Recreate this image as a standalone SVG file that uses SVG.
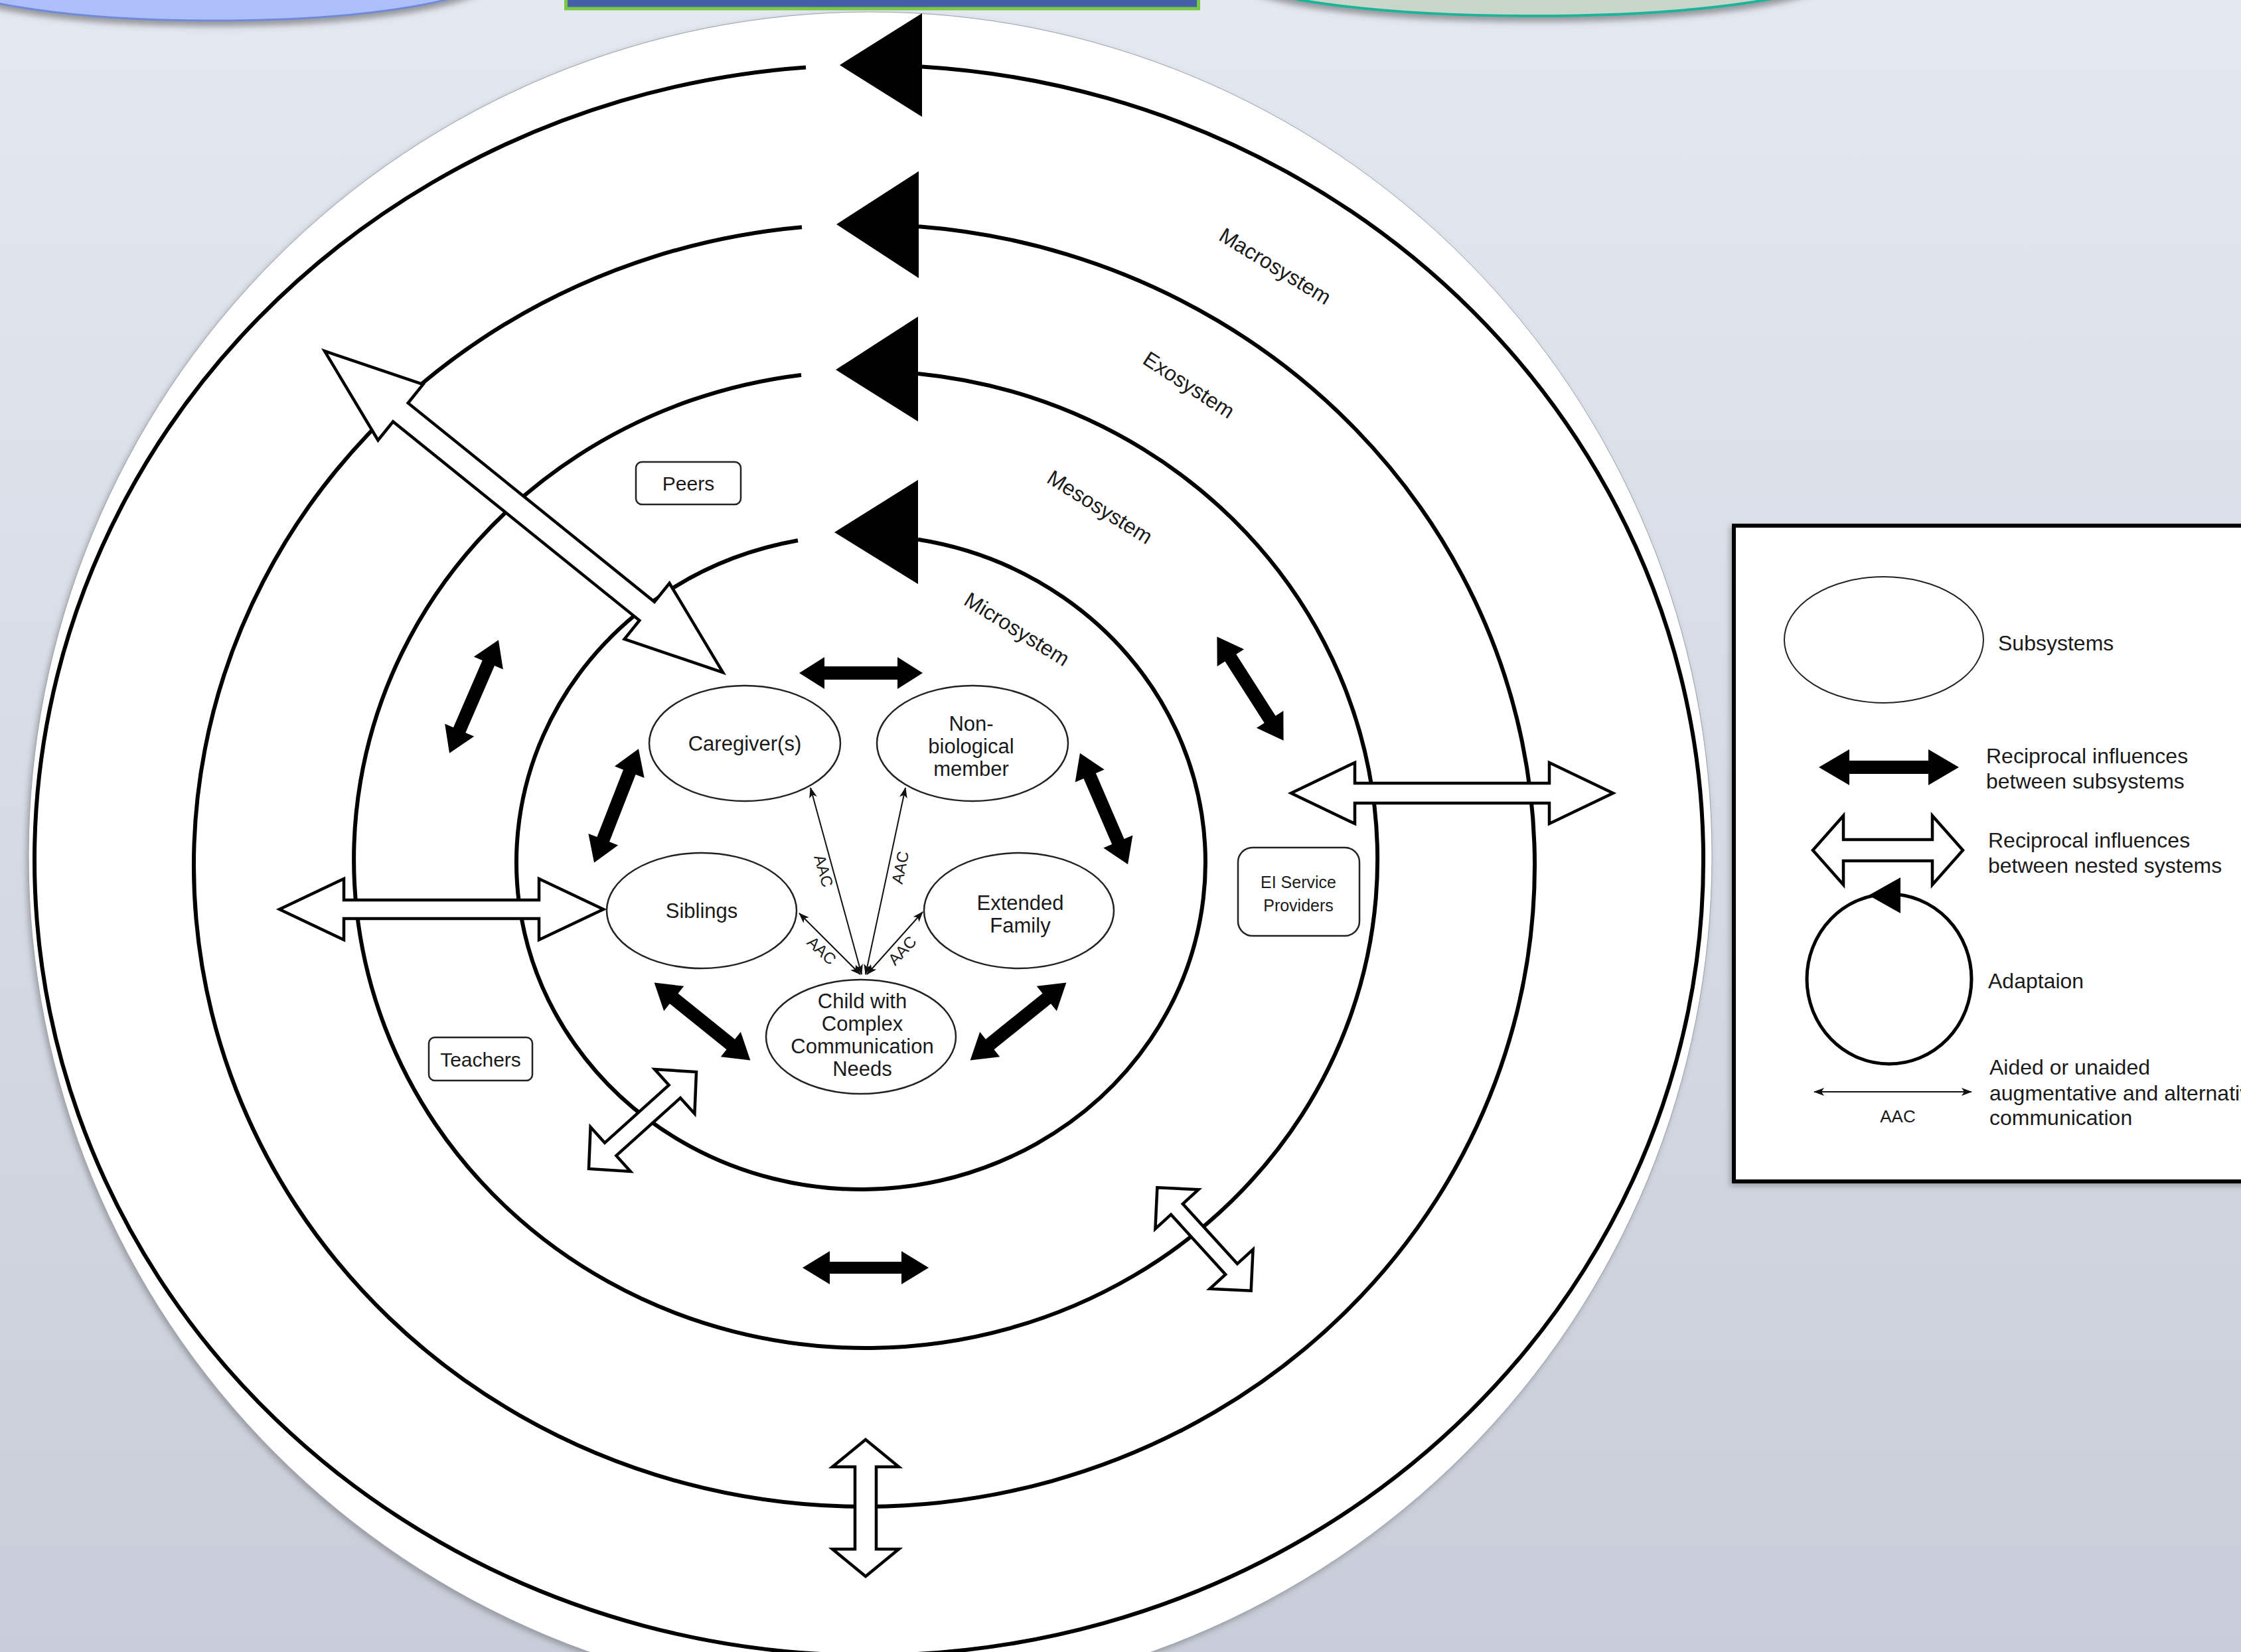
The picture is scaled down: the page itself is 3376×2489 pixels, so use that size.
<svg xmlns="http://www.w3.org/2000/svg" width="3376" height="2489" viewBox="0 0 3376 2489">
<defs>
<linearGradient id="bg" x1="0" y1="0" x2="0" y2="1">
<stop offset="0" stop-color="#e4e8f0"/>
<stop offset="1" stop-color="#c8cdd9"/>
</linearGradient>
<filter id="sh" x="-10%" y="-10%" width="120%" height="130%">
<feGaussianBlur in="SourceAlpha" stdDeviation="5"/>
<feOffset dx="0" dy="7" result="o"/>
<feFlood flood-color="#555" flood-opacity="0.55"/>
<feComposite in2="o" operator="in"/>
<feMerge><feMergeNode/><feMergeNode in="SourceGraphic"/></feMerge>
</filter>
<filter id="sh2" x="-5%" y="-5%" width="110%" height="110%">
<feGaussianBlur in="SourceAlpha" stdDeviation="4"/>
<feOffset dx="-3" dy="4" result="o"/>
<feFlood flood-color="#666" flood-opacity="0.5"/>
<feComposite in2="o" operator="in"/>
<feMerge><feMergeNode/><feMergeNode in="SourceGraphic"/></feMerge>
</filter>
<marker id="ah" viewBox="0 0 16 12" refX="15" refY="6" markerWidth="16" markerHeight="12" markerUnits="userSpaceOnUse" orient="auto-start-reverse">
<path d="M0,0 L16,6 L0,12 L4,6 z" fill="#111"/>
</marker>
<polygon id="blk" points="-93,0 -55,-24 -55,-10 55,-10 55,-24 93,0 55,24 55,10 -55,10 -55,24"/>
</defs>
<style>
.ring{fill:none;stroke:#000;stroke-width:6}
.node{fill:#fff;stroke:#222;stroke-width:2.5}
.box{fill:#fff;stroke:#222;stroke-width:2.5}
.t{font-family:"Liberation Sans",Arial,Helvetica,sans-serif;fill:#1a1a1a;text-anchor:middle}
.lt{font-family:"Liberation Sans",Arial,Helvetica,sans-serif;fill:#1a1a1a;font-size:32px}
.hol{fill:#fff;stroke:#000;stroke-width:4.5;stroke-linejoin:miter}
.sol{fill:#000}
.aac{stroke:#111;stroke-width:2;fill:none}
.adp{fill:#000}
</style>
<rect x="0" y="0" width="3376" height="2489" fill="url(#bg)"/>
<g id="top-shapes">
<ellipse cx="323" cy="-40" rx="420" ry="71" fill="#acbffa" stroke="#6f8ad6" stroke-width="3" filter="url(#sh)"/>
<ellipse cx="2309" cy="-40" rx="448" ry="64" fill="#c9d6ca" stroke="#1db39a" stroke-width="4" filter="url(#sh)"/>
<rect x="852.5" y="-20" width="953" height="33" fill="#425fa8" stroke="#7ac943" stroke-width="5"/>
</g>
<ellipse id="backdrop" cx="1311" cy="1290" rx="1268" ry="1272" fill="#fff" stroke="#9aa0ad" stroke-width="1" filter="url(#sh2)"/>
<g id="rings">
<path class="ring" d="M1389 100.4 A1257 1198 0 1 1 1214 101.4"/>
<path class="ring" d="M1384 341.2 A1010 966 0 1 1 1208 342.2"/>
<path class="ring" d="M1383 562.9 A771 736 0 1 1 1207 564.9"/>
<path class="ring" d="M1383 812.8 A519 493 0 1 1 1202 814.3"/>
<polygon class="adp" points="1265,98 1389,20 1389,176"/>
<polygon class="adp" points="1260,338 1384,258 1384,419"/>
<polygon class="adp" points="1259,557 1383,477 1383,635"/>
<polygon class="adp" points="1257,802 1383,723 1383,880"/>
</g>
<g id="system-labels" class="t" font-size="32">
<text transform="translate(1921,401) rotate(31.5)" dominant-baseline="central">Macrosystem</text>
<text transform="translate(1791,580) rotate(33)" dominant-baseline="central">Exosystem</text>
<text transform="translate(1657,764) rotate(32)" dominant-baseline="central">Mesosystem</text>
<text transform="translate(1532,948) rotate(32)" dominant-baseline="central">Microsystem</text>
</g>
<g id="connectors">
<g id="nested-arrows">
<polygon class="hol" transform="translate(789,771) rotate(38.9)" points="-385.5,0 -238.5,-54 -238.5,-18 238.5,-18 238.5,-54 385.5,0 238.5,54 238.5,18 -238.5,18 -238.5,54"/>
<polygon class="hol" transform="translate(665,1370)" points="-244,0 -147,-46 -147,-14 147,-14 147,-46 244,0 147,46 147,14 -147,14 -147,46"/>
<polygon class="hol" transform="translate(2187.5,1195)" points="-242.5,0 -146.5,-46 -146.5,-15 146.5,-15 146.5,-46 242.5,0 146.5,46 146.5,15 -146.5,15 -146.5,46"/>
<polygon class="hol" transform="translate(968,1688) rotate(-42)" points="-109,0 -65,-45 -65,-13 65,-13 65,-45 109,0 65,45 65,13 -65,13 -65,45"/>
<polygon class="hol" transform="translate(1814,1867) rotate(47.7)" points="-105,0 -61,-44 -61,-12 61,-12 61,-44 105,0 61,44 61,12 -61,12 -61,44"/>
<polygon class="hol" transform="translate(1304,2272) rotate(90)" points="-103,0 -62,-50 -62,-16 62,-16 62,-50 103,0 62,50 62,16 -62,16 -62,50"/>
</g>
<g id="subsystem-arrows" class="sol">
<use href="#blk" transform="translate(1297,1014)"/>
<use href="#blk" transform="translate(928.5,1214) rotate(111.3) scale(0.99,1)"/>
<use href="#blk" transform="translate(1663,1218.5) rotate(66.7) scale(0.98,1)"/>
<use href="#blk" transform="translate(1058,1539) rotate(38.9)"/>
<use href="#blk" transform="translate(1534,1539) rotate(141.1)"/>
<use href="#blk" transform="translate(714,1049.5) rotate(113.4)"/>
<use href="#blk" transform="translate(1883.5,1037.5) rotate(57.4)"/>
<polygon transform="translate(1304,1910)" points="-95,0 -54,-25 -54,-9 54,-9 54,-25 95,0 54,25 54,9 -54,9 -54,25"/>
</g>
<g id="aac-arrows">
<line class="aac" x1="1298" y1="1468" x2="1221" y2="1187" marker-start="url(#ah)" marker-end="url(#ah)"/>
<line class="aac" x1="1304" y1="1468" x2="1364" y2="1187" marker-start="url(#ah)" marker-end="url(#ah)"/>
<line class="aac" x1="1296" y1="1468" x2="1204" y2="1376" marker-start="url(#ah)" marker-end="url(#ah)"/>
<line class="aac" x1="1306" y1="1468" x2="1390" y2="1374" marker-start="url(#ah)" marker-end="url(#ah)"/>
</g>
<g class="t" font-size="24">
<text transform="translate(1241,1312) rotate(74)" dominant-baseline="central">AAC</text>
<text transform="translate(1356,1307) rotate(-78)" dominant-baseline="central">AAC</text>
<text transform="translate(1238,1432) rotate(43)" dominant-baseline="central">AAC</text>
<text transform="translate(1359,1432) rotate(-47)" dominant-baseline="central">AAC</text>
</g>
</g>
<g id="node-caregiver"><ellipse class="node" cx="1122" cy="1120" rx="144" ry="87"/><text class="t" font-size="31" x="1122" y="1131">Caregiver(s)</text></g>
<g id="node-nonbio"><ellipse class="node" cx="1465" cy="1120" rx="144" ry="87"/><text class="t" font-size="31" x="1463" y="1101">Non-</text><text class="t" font-size="31" x="1463" y="1135">biological</text><text class="t" font-size="31" x="1463" y="1169">member</text></g>
<g id="node-siblings"><ellipse class="node" cx="1057" cy="1372" rx="143" ry="87"/><text class="t" font-size="31" x="1057" y="1383">Siblings</text></g>
<g id="node-extended"><ellipse class="node" cx="1535" cy="1372" rx="143" ry="87"/><text class="t" font-size="31" x="1537" y="1371">Extended</text><text class="t" font-size="31" x="1537" y="1405">Family</text></g>
<g id="node-child"><ellipse class="node" cx="1297" cy="1562" rx="143" ry="86"/><text class="t" font-size="31" x="1299" y="1519">Child with</text><text class="t" font-size="31" x="1299" y="1553">Complex</text><text class="t" font-size="31" x="1299" y="1587">Communication</text><text class="t" font-size="31" x="1299" y="1621">Needs</text></g>
<g id="node-peers"><rect class="box" x="958" y="696" width="158" height="64" rx="9"/><text class="t" font-size="30" x="1037" y="739">Peers</text></g>
<g id="node-teachers"><rect class="box" x="646" y="1563" width="156" height="65" rx="9"/><text class="t" font-size="30" x="724" y="1607">Teachers</text></g>
<g id="node-ei"><rect class="box" x="1865" y="1277" width="183" height="133" rx="22"/><text class="t" font-size="25" x="1956" y="1338" fill="#333">EI Service</text><text class="t" font-size="25" x="1956" y="1373" fill="#333">Providers</text></g>
<g id="legend">
<rect x="2612" y="792" width="800" height="988" fill="#fff" stroke="#000" stroke-width="6" filter="url(#sh2)"/>
<ellipse cx="2838" cy="964" rx="150" ry="95" fill="#fff" stroke="#222" stroke-width="2"/>
<text class="lt" x="3010" y="980">Subsystems</text>
<polygon class="sol" transform="translate(2845.5,1156)" points="-105.5,0 -59.5,-27 -59.5,-10 59.5,-10 59.5,-27 105.5,0 59.5,27 59.5,10 -59.5,10 -59.5,27"/>
<text class="lt" x="2992" y="1150">Reciprocal influences</text>
<text class="lt" x="2992" y="1188">between subsystems</text>
<polygon class="hol" transform="translate(2844,1281)" points="-113,0 -67,-52 -67,-16 67,-16 67,-52 113,0 67,52 67,16 -67,16 -67,52"/>
<text class="lt" x="2995" y="1277">Reciprocal influences</text>
<text class="lt" x="2995" y="1315">between nested systems</text>
<ellipse cx="2846" cy="1475" rx="124" ry="128" fill="none" stroke="#000" stroke-width="5"/>
<polygon class="adp" points="2815,1349 2863,1322 2863,1376"/>
<text class="lt" x="2995" y="1489">Adaptaion</text>
<line class="aac" x1="2733" y1="1645" x2="2970" y2="1645" marker-start="url(#ah)" marker-end="url(#ah)"/>
<text class="t" font-size="26" x="2859" y="1691">AAC</text>
<text class="lt" x="2997" y="1619">Aided or unaided</text>
<text class="lt" x="2997" y="1658">augmentative and alternative</text>
<text class="lt" x="2997" y="1695">communication</text>
</g>
</svg>
